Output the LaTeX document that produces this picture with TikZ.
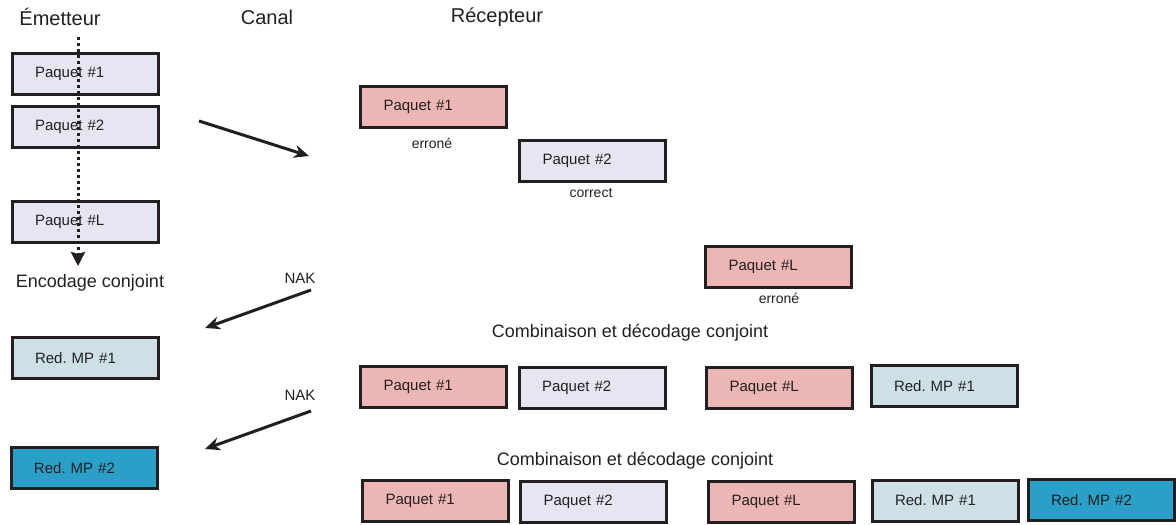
\documentclass[tikz,border=0pt]{standalone}
\usepackage{fontspec}
\setmainfont{Liberation Sans}
\usepackage{tikz}
\usetikzlibrary{arrows.meta, positioning, calc}

\definecolor{trait}{HTML}{231F20}
\definecolor{paqbleu}{HTML}{E6E6F2}
\definecolor{paqrose}{HTML}{ECB6B5}
\definecolor{redclair}{HTML}{CCE0E6}
\definecolor{redfonce}{HTML}{2AA0C8}

\begin{document}
\begin{tikzpicture}[
  x=1pt, y=-1pt,
  box/.style={draw=trait, line width=3pt, minimum width=146pt, minimum height=41pt,
    inner xsep=23pt, text width=100pt, align=left, text=trait,
    font=\fontsize{15}{18}\selectfont},
  titre/.style={text=trait, font=\fontsize{20}{24}\selectfont},
  combi/.style={text=trait, font=\fontsize{18}{22}\selectfont},
  etat/.style={text=trait, font=\fontsize{14}{17}\selectfont},
  fleche/.style={draw=trait, line width=3pt, -{Stealth[length=15pt, width=13pt]}},
]
\useasboundingbox (0,0) rectangle (1176,525);

% titres
\node[titre] (emet) at (60,17)  {Émetteur};
\node[titre] (canal) at (267,17) {Canal};
\node[titre] (recep) at (497,17) {Récepteur};

% emetteur
\node[box, fill=paqbleu]  (E1) at (85,74)    {Paquet \#1};
\node[box, fill=paqbleu]  (E2) at (85,126.5) {Paquet \#2};
\node[box, fill=paqbleu]  (EL) at (85,222)   {Paquet \#L};
\node[combi] (enc) at (90,283) {Encodage conjoint};
\node[box, fill=redclair] (M1) at (85,358)   {Red.\ MP \#1};
\node[box, fill=redfonce] (M2) at (84,468)   {Red.\ MP \#2};

\coordinate (dhaut) at (78,37);
\coordinate (dbas) at (78,266);
\draw[draw=trait, line width=3pt, dash pattern=on 3pt off 3pt,
  -{Stealth[length=14pt, width=14pt, inset=2pt]}] (dhaut) -- (dbas);

% canal
\coordinate (a1) at (199,121);
\coordinate (b1) at (309,156);
\draw[fleche] (a1) -- (b1);
\node[etat, font=\fontsize{15}{18}\selectfont] (nak1) at (300,278) {NAK};
\coordinate (a2) at (311,290);
\coordinate (b2) at (205,328);
\draw[fleche] (a2) -- (b2);
\node[etat, font=\fontsize{15}{18}\selectfont] (nak2) at (300,395) {NAK};
\coordinate (a3) at (311,411);
\coordinate (b3) at (205,449);
\draw[fleche] (a3) -- (b3);

% recepteur
\node[box, fill=paqrose] (R1) at (433.5,106.5) {Paquet \#1};
\node[etat] (err1) at (432,143) {erroné};
\node[box, fill=paqbleu] (R2) at (592.5,160.5) {Paquet \#2};
\node[etat] (cor2) at (591,193) {correct};
\node[box, fill=paqrose] (RL) at (778.5,266.5) {Paquet \#L};
\node[etat] (errL) at (779,298) {erroné};

\node[combi] (comb1) at (630,333) {Combinaison et décodage conjoint};
\node[box, fill=paqrose]  (C11) at (433.5,386.5) {Paquet \#1};
\node[box, fill=paqbleu]  (C12) at (592,388)     {Paquet \#2};
\node[box, fill=paqrose]  (C1L) at (779.5,388)   {Paquet \#L};
\node[box, fill=redclair] (C1M) at (944,386)     {Red.\ MP \#1};

\node[combi] (comb2) at (635,461) {Combinaison et décodage conjoint};
\node[box, fill=paqrose]  (C21) at (435.5,500.5) {Paquet \#1};
\node[box, fill=paqbleu]  (C22) at (593.5,501.5) {Paquet \#2};
\node[box, fill=paqrose]  (C2L) at (781.5,502)   {Paquet \#L};
\node[box, fill=redclair] (C2M) at (945,500.5)   {Red.\ MP \#1};
\node[box, fill=redfonce] (C2N) at (1101,500)    {Red.\ MP \#2};
\end{tikzpicture}
\end{document}
